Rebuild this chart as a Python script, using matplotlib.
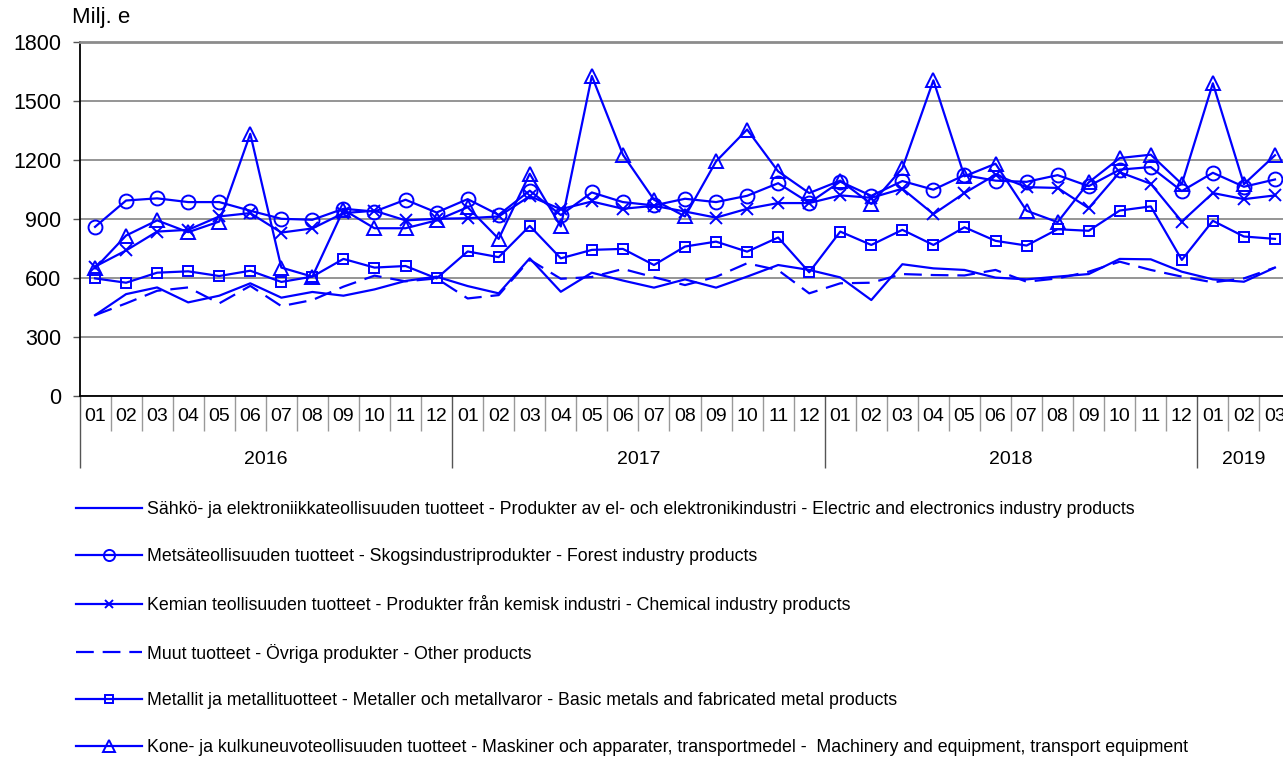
"""Monthly exports by product group, 2016-01 .. 2019-03 (Milj. e)."""

import matplotlib
matplotlib.use('Agg')
import matplotlib.pyplot as plt

plt.rcParams['font.family'] = ['Liberation Sans', 'DejaVu Sans']

#-----------------------------------------------------------------------------
# Data
#-----------------------------------------------------------------------------

months = ['01', '02', '03', '04', '05', '06', '07', '08', '09', '10', '11', '12'] * 3 \
    + ['01', '02', '03']
years = ['2016', '2017', '2018', '2019']
year_len = [12, 12, 12, 3]

electric = [411, 518, 552, 476, 510, 573, 500, 529, 510, 542, 585, 607,
            559, 522, 700, 530, 627, 587, 551, 593, 551, 607, 666, 641,
            603, 488, 670, 649, 641, 602, 593, 607, 620, 697, 695, 632,
            593, 581, 653]
forest = [860, 994, 1005, 986, 986, 942, 901, 896, 952, 938, 998, 933,
          1001, 921, 1044, 920, 1035, 986, 969, 1003, 986, 1018, 1082, 982,
          1090, 1018, 1093, 1049, 1123, 1095, 1089, 1123, 1067, 1151, 1164, 1042,
          1135, 1064, 1101]
chemical = [658, 740, 836, 845, 913, 930, 831, 852, 930, 942, 893, 901,
            904, 913, 1016, 950, 989, 952, 967, 938, 907, 952, 981, 981,
            1020, 1008, 1054, 925, 1032, 1125, 1062, 1058, 955, 1138, 1079, 887,
            1032, 1001, 1020]
other = [411, 471, 535, 552, 471, 560, 457, 488, 556, 612, 583, 598,
         496, 513, 693, 596, 605, 646, 604, 564, 606, 675, 640, 522,
         573, 576, 620, 615, 613, 641, 581, 598, 632, 683, 641, 607,
         578, 598, 653]
metals = [598, 576, 627, 634, 610, 637, 580, 607, 697, 653, 661, 598,
          735, 706, 865, 700, 743, 748, 666, 760, 785, 734, 806, 629,
          836, 768, 845, 768, 858, 789, 765, 848, 840, 943, 964, 692,
          891, 811, 799]
machinery = [649, 816, 893, 833, 887, 1333, 653, 607, 947, 853, 853, 893,
             960, 799, 1130, 862, 1627, 1227, 998, 913, 1193, 1355, 1142, 1032,
             1095, 977, 1158, 1605, 1117, 1181, 942, 884, 1086, 1210, 1227, 1078,
             1590, 1077, 1224]

labels = [
    'Sähkö- ja elektroniikkateollisuuden tuotteet - Produkter av el- och '
    'elektronikindustri - Electric and electronics industry products',
    'Metsäteollisuuden tuotteet - Skogsindustriprodukter - Forest industry products',
    'Kemian teollisuuden tuotteet - Produkter från kemisk industri - '
    'Chemical industry products',
    'Muut tuotteet - Övriga produkter - Other products',
    'Metallit ja metallituotteet - Metaller och metallvaror - '
    'Basic metals and fabricated metal products',
    'Kone- ja kulkuneuvoteollisuuden tuotteet - Maskiner och apparater, '
    'transportmedel -  Machinery and equipment, transport equipment',
]

#-----------------------------------------------------------------------------
# Figure
#-----------------------------------------------------------------------------

W, H = 1283, 758
fig = plt.figure(figsize=(W / 100, H / 100), dpi=100)
# plot area runs slightly past the right edge, as in the original
ax = fig.add_axes([79.5 / W, 1 - 396 / H, 1211 / W, 354 / H])

blue = '#0000ff'
x = list(range(len(months)))
style = dict(color=blue, lw=1.6, markerfacecolor='none', markeredgewidth=1.4)

h_el, = ax.plot(x, electric, **style)
h_fo, = ax.plot(x, forest, marker='o', ms=10, **style)
h_ch, = ax.plot(x, chemical, marker='x', ms=8, **style)
h_ot, = ax.plot(x, other, dashes=(8, 4), **style)
h_me, = ax.plot(x, metals, marker='s', ms=7.5, **style)
h_ma, = ax.plot(x, machinery, marker='^', ms=10, **style)

ax.set_xlim(-0.5, len(months) - 0.5)
ax.set_ylim(0, 1800)
ax.set_yticks(range(0, 1801, 300))
ax.grid(axis='y', color='#8c8c8c', lw=1.3)
ax.set_axisbelow(True)

ax.spines['right'].set_visible(False)
ax.spines['top'].set_color('#8c8c8c')
ax.spines['top'].set_linewidth(2)
ax.spines['left'].set_linewidth(1.3)
ax.spines['bottom'].set_linewidth(1.3)

ax.tick_params(axis='y', direction='out', length=5, width=1, color='#555555',
               labelsize=15.5, pad=8)

# month / year separators as ticks
bounds = [i - 0.5 for i in x]
year_bounds = [-0.5]
for n in year_len[:-1]:
    year_bounds.append(year_bounds[-1] + n)
ax.set_xticks(year_bounds)
ax.set_xticks([b for b in bounds if b not in year_bounds], minor=True)
ax.tick_params(axis='x', which='major', direction='out', length=52, width=1,
               color='#555555', labelbottom=False)
ax.tick_params(axis='x', which='minor', direction='out', length=25, width=1,
               color='#999999', labelbottom=False)

tr = ax.get_xaxis_transform()
for i, m in enumerate(months):
    ax.text(i, -0.058, m, transform=tr, ha='center', va='center', fontsize=14)
start = 0
for yr, n in zip(years, year_len):
    ax.text(start + (n - 1) / 2, -0.18, yr, transform=tr, ha='center',
            va='center', fontsize=14)
    start += n

fig.text(72 / W, 1 - 18 / H, 'Milj. e', ha='left', va='center', fontsize=16)

fig.legend([h_el, h_fo, h_ch, h_ot, h_me, h_ma], labels,
           loc='upper left', bbox_to_anchor=(76 / W, 1 - 501 / H),
           frameon=False, fontsize=12.8, handlelength=3.72, handletextpad=0.3,
           labelspacing=1.68, borderpad=0, borderaxespad=0, markerscale=0.8)

fig.savefig('out.png', dpi=100)
